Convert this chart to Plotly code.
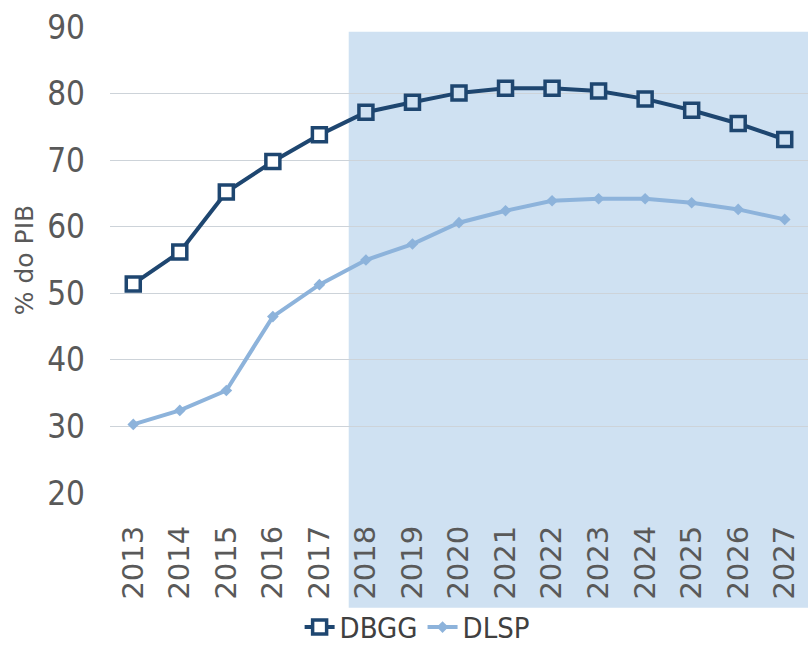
import plotly.graph_objects as go

# Public debt trajectories, % of GDP (2018 onwards are projections)
years = ["2013", "2014", "2015", "2016", "2017", "2018", "2019", "2020",
         "2021", "2022", "2023", "2024", "2025", "2026", "2027"]
dbgg = [51.4, 56.2, 65.2, 69.8, 73.8, 77.2, 78.7, 80.1,
        80.8, 80.8, 80.4, 79.2, 77.5, 75.5, 73.1]
dlsp = [30.3, 32.4, 35.4, 46.5, 51.3, 55.0, 57.4, 60.6,
        62.4, 63.9, 64.2, 64.2, 63.6, 62.6, 61.1]
projection_start = "2018"
y_ticks = [20, 30, 40, 50, 60, 70, 80, 90]

NAVY = "#1e4670"
LIGHT = "#8db3db"
SHADE = "#cfe1f2"
GREY_TXT = "#595959"
NARROW = "'DejaVu Sans Condensed', 'Liberation Sans Narrow', Roboto, sans-serif"
WIDE = "'DejaVu Sans', Verdana, sans-serif"

start_idx = years.index(projection_start)
marker_fill = ["white" if i < start_idx else SHADE for i in range(len(years))]

fig = go.Figure()
fig.add_trace(go.Scatter(
    x=years, y=dbgg, name="DBGG", mode="lines+markers",
    line=dict(color=NAVY, width=4),
    marker=dict(symbol="square", size=14, color=marker_fill,
                line=dict(color=NAVY, width=3.5)),
))
fig.add_trace(go.Scatter(
    x=years, y=dlsp, name="DLSP", mode="lines+markers",
    line=dict(color=LIGHT, width=4),
    marker=dict(symbol="diamond", size=9, color=LIGHT),
))

# shaded projection band
fig.add_shape(type="rect", xref="paper", yref="paper",
              x0=0.342, x1=1.0, y0=-0.246, y1=0.99,
              fillcolor=SHADE, line=dict(width=0), layer="below")

fig.update_layout(
    width=808, height=653,
    margin=dict(l=110, r=0, t=27, b=154),
    paper_bgcolor="white", plot_bgcolor="white",
    showlegend=True,
    legend=dict(orientation="h", x=0.44, xanchor="center",
                y=-0.288, yanchor="middle",
                font=dict(family=NARROW, size=29, color="#404040"),
                bgcolor="rgba(0,0,0,0)", itemwidth=30),
)
fig.update_xaxes(
    type="category", range=[-0.5, len(years) - 0.5],
    tickangle=-90, showgrid=False, zeroline=False,
    showline=False, ticks="", ticklabelstandoff=26,
    tickfont=dict(family=WIDE, size=29, color=GREY_TXT),
)
fig.update_yaxes(
    range=[20, 90], tickvals=y_ticks, showgrid=True,
    gridcolor="#cdd3d9", gridwidth=1, zeroline=False, showline=False,
    ticks="", ticklabelstandoff=24,
    tickfont=dict(family=NARROW, size=33, color=GREY_TXT),
    title=dict(text="% do PIB", standoff=6,
               font=dict(family=WIDE, size=25, color=GREY_TXT)),
)

fig.write_html("out.html")
